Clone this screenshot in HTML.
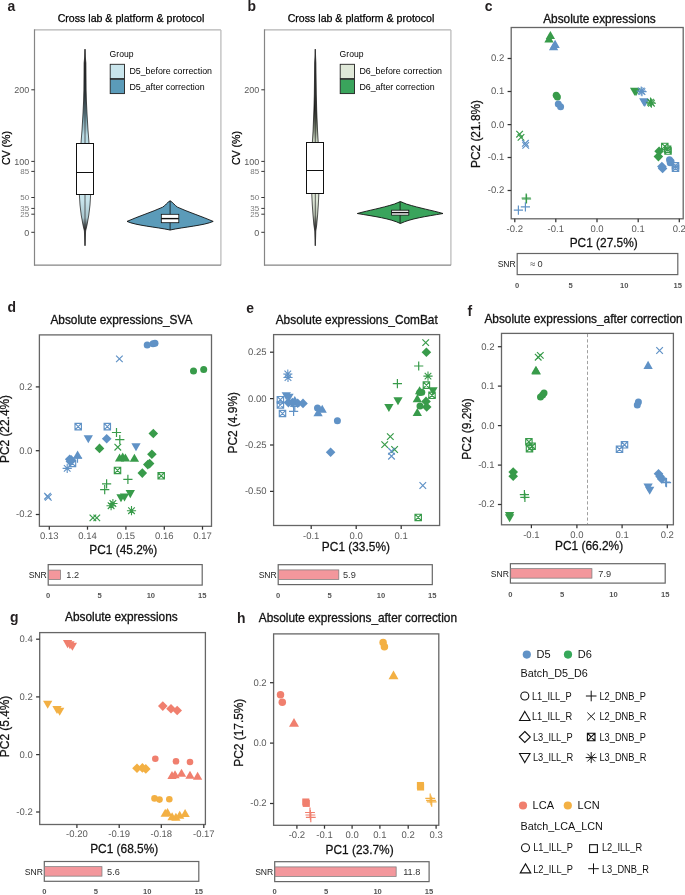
<!DOCTYPE html>
<html><head><meta charset="utf-8"><style>html,body{margin:0;padding:0;background:#fff;}svg{display:block;will-change:transform;}</style></head>
<body><svg width="685" height="895" viewBox="0 0 685 895" font-family="Liberation Sans, sans-serif">
<rect width="685" height="895" fill="#fff"/>
<text transform="translate(7.40 11.00) scale(0.96 1)" font-size="14.5" text-anchor="start" fill="#231f20" font-weight="bold" >a</text>
<text x="131.00" y="21.90" font-size="10.6" text-anchor="middle" fill="#000" font-weight="normal" stroke="#000" stroke-width="0.25">Cross lab &amp; platform &amp; protocol</text>
<line x1="34.50" y1="29.90" x2="220.90" y2="29.90" stroke="#b3b3b3" stroke-width="1.3" />
<line x1="220.90" y1="29.90" x2="220.90" y2="265.20" stroke="#bcbcbc" stroke-width="1.3" />
<line x1="34.50" y1="265.20" x2="220.90" y2="265.20" stroke="#858585" stroke-width="1.3" />
<line x1="34.50" y1="29.30" x2="34.50" y2="265.80" stroke="#858585" stroke-width="1.2" />
<line x1="31.30" y1="89.80" x2="34.50" y2="89.80" stroke="#333" stroke-width="1.0" />
<text x="29.30" y="93.10" font-size="9.0" text-anchor="end" fill="#5a5a5a" font-weight="normal" >200</text>
<line x1="31.30" y1="161.40" x2="34.50" y2="161.40" stroke="#333" stroke-width="1.0" />
<text x="29.30" y="164.70" font-size="9.0" text-anchor="end" fill="#5a5a5a" font-weight="normal" >100</text>
<line x1="31.30" y1="232.30" x2="34.50" y2="232.30" stroke="#333" stroke-width="1.0" />
<text x="29.30" y="235.60" font-size="9.0" text-anchor="end" fill="#5a5a5a" font-weight="normal" >0</text>
<line x1="31.30" y1="171.40" x2="34.50" y2="171.40" stroke="#333" stroke-width="1.0" />
<text transform="translate(29.30 174.30) scale(1.15 1)" font-size="7.0" text-anchor="end" fill="#7a7a7a" font-weight="normal" >85</text>
<line x1="31.30" y1="197.50" x2="34.50" y2="197.50" stroke="#333" stroke-width="1.0" />
<text transform="translate(29.30 200.40) scale(1.15 1)" font-size="7.0" text-anchor="end" fill="#7a7a7a" font-weight="normal" >50</text>
<line x1="31.30" y1="208.40" x2="34.50" y2="208.40" stroke="#333" stroke-width="1.0" />
<text transform="translate(29.30 211.30) scale(1.15 1)" font-size="7.0" text-anchor="end" fill="#7a7a7a" font-weight="normal" >35</text>
<line x1="31.30" y1="214.20" x2="34.50" y2="214.20" stroke="#333" stroke-width="1.0" />
<text transform="translate(29.30 217.10) scale(1.15 1)" font-size="7.0" text-anchor="end" fill="#7a7a7a" font-weight="normal" >25</text>
<text x="0.00" y="0.00" font-size="10.6" text-anchor="middle" fill="#000" font-weight="normal" stroke="#000" stroke-width="0.25" transform="translate(9.7,148) rotate(-90)">CV (%)</text>
<text x="109.60" y="57.20" font-size="8.6" text-anchor="start" fill="#000" font-weight="normal" >Group</text>
<rect x="110.20" y="64.30" width="14.30" height="14.30" fill="#c9e5ec" stroke="#222" stroke-width="0.9" />
<rect x="110.20" y="79.30" width="14.30" height="14.30" fill="#5b9bb9" stroke="#222" stroke-width="0.9" />
<text x="129.40" y="74.20" font-size="8.85" text-anchor="start" fill="#000" font-weight="normal" >D5_before correction</text>
<text x="129.40" y="89.60" font-size="8.85" text-anchor="start" fill="#000" font-weight="normal" >D5_after correction</text>
<linearGradient id="g0" gradientUnits="userSpaceOnUse" x1="0" y1="49" x2="0" y2="246"><stop offset="0.000" stop-color="#333"/><stop offset="0.056" stop-color="#111"/><stop offset="0.234" stop-color="#25343a"/><stop offset="0.350" stop-color="#6f98a4"/><stop offset="0.437" stop-color="#b9dbe4"/><stop offset="0.766" stop-color="#c9e5ec"/><stop offset="0.858" stop-color="#a9c6ce"/><stop offset="0.914" stop-color="#2a2a2a"/><stop offset="0.949" stop-color="#444"/><stop offset="1.000" stop-color="#555"/></linearGradient>
<path d="M85.00 49.20L85.30 57.00L85.90 63.00L86.00 75.00L86.10 90.00L86.40 101.00L87.10 115.00L88.00 130.00L89.00 143.00L89.70 160.00L90.30 180.00L90.60 195.00L90.00 205.00L88.80 215.00L87.00 225.00L85.60 231.00L85.30 238.00L85.00 245.70L84.70 238.00L84.40 231.00L83.00 225.00L81.20 215.00L80.00 205.00L79.40 195.00L79.70 180.00L80.30 160.00L81.00 143.00L82.00 130.00L82.90 115.00L83.60 101.00L83.90 90.00L84.00 75.00L84.10 63.00L84.70 57.00Z" fill="url(#g0)" stroke="#111" stroke-width="0.7" transform="translate(0,0)"/>
<line x1="85.00" y1="49.20" x2="85.00" y2="245.70" stroke="#3a3a3a" stroke-width="0.8" />
<rect x="76.50" y="143.50" width="17.00" height="51.00" fill="#fff" stroke="#111" stroke-width="1.0" />
<line x1="76.50" y1="172.50" x2="93.50" y2="172.50" stroke="#111" stroke-width="1.0" />
<path d="M170.1 200.8 C167 202.5 165.5 205.5 162.6 207.2 C152 212 138 216.5 127.0 221.4 C136 225.5 156 227 170.1 230.0 C184 227 204 225.5 213.2 221.4 C202 216.5 188 212 177.6 207.2 C174.7 205.5 173.2 202.5 170.1 200.8Z" fill="#5b9bb9" stroke="#111" stroke-width="0.9" transform="translate(0,0)"/>
<line x1="170.10" y1="200.80" x2="170.10" y2="230.20" stroke="#111" stroke-width="0.8" />
<rect x="161.30" y="214.30" width="17.50" height="8.40" fill="#fff" stroke="#111" stroke-width="0.8" />
<line x1="161.30" y1="218.60" x2="178.80" y2="218.60" stroke="#111" stroke-width="1.4" />
<text transform="translate(247.41 11.00) scale(0.96 1)" font-size="14.5" text-anchor="start" fill="#231f20" font-weight="bold" >b</text>
<text x="361.00" y="21.90" font-size="10.6" text-anchor="middle" fill="#000" font-weight="normal" stroke="#000" stroke-width="0.25">Cross lab &amp; platform &amp; protocol</text>
<line x1="264.50" y1="29.90" x2="450.90" y2="29.90" stroke="#b3b3b3" stroke-width="1.3" />
<line x1="450.90" y1="29.90" x2="450.90" y2="265.20" stroke="#bcbcbc" stroke-width="1.3" />
<line x1="264.50" y1="265.20" x2="450.90" y2="265.20" stroke="#858585" stroke-width="1.3" />
<line x1="264.50" y1="29.30" x2="264.50" y2="265.80" stroke="#858585" stroke-width="1.2" />
<line x1="261.30" y1="89.80" x2="264.50" y2="89.80" stroke="#333" stroke-width="1.0" />
<text x="259.30" y="93.10" font-size="9.0" text-anchor="end" fill="#5a5a5a" font-weight="normal" >200</text>
<line x1="261.30" y1="161.40" x2="264.50" y2="161.40" stroke="#333" stroke-width="1.0" />
<text x="259.30" y="164.70" font-size="9.0" text-anchor="end" fill="#5a5a5a" font-weight="normal" >100</text>
<line x1="261.30" y1="232.30" x2="264.50" y2="232.30" stroke="#333" stroke-width="1.0" />
<text x="259.30" y="235.60" font-size="9.0" text-anchor="end" fill="#5a5a5a" font-weight="normal" >0</text>
<line x1="261.30" y1="171.40" x2="264.50" y2="171.40" stroke="#333" stroke-width="1.0" />
<text transform="translate(259.30 174.30) scale(1.15 1)" font-size="7.0" text-anchor="end" fill="#7a7a7a" font-weight="normal" >85</text>
<line x1="261.30" y1="197.50" x2="264.50" y2="197.50" stroke="#333" stroke-width="1.0" />
<text transform="translate(259.30 200.40) scale(1.15 1)" font-size="7.0" text-anchor="end" fill="#7a7a7a" font-weight="normal" >50</text>
<line x1="261.30" y1="208.40" x2="264.50" y2="208.40" stroke="#333" stroke-width="1.0" />
<text transform="translate(259.30 211.30) scale(1.15 1)" font-size="7.0" text-anchor="end" fill="#7a7a7a" font-weight="normal" >35</text>
<line x1="261.30" y1="214.20" x2="264.50" y2="214.20" stroke="#333" stroke-width="1.0" />
<text transform="translate(259.30 217.10) scale(1.15 1)" font-size="7.0" text-anchor="end" fill="#7a7a7a" font-weight="normal" >25</text>
<text x="0.00" y="0.00" font-size="10.6" text-anchor="middle" fill="#000" font-weight="normal" stroke="#000" stroke-width="0.25" transform="translate(239.7,148) rotate(-90)">CV (%)</text>
<text x="339.60" y="57.20" font-size="8.6" text-anchor="start" fill="#000" font-weight="normal" >Group</text>
<rect x="340.20" y="64.30" width="14.30" height="14.30" fill="#dfe8d8" stroke="#222" stroke-width="0.9" />
<rect x="340.20" y="79.30" width="14.30" height="14.30" fill="#3aa45c" stroke="#222" stroke-width="0.9" />
<text x="359.40" y="74.20" font-size="8.85" text-anchor="start" fill="#000" font-weight="normal" >D6_before correction</text>
<text x="359.40" y="89.60" font-size="8.85" text-anchor="start" fill="#000" font-weight="normal" >D6_after correction</text>
<linearGradient id="g230" gradientUnits="userSpaceOnUse" x1="0" y1="49" x2="0" y2="246"><stop offset="0.000" stop-color="#333"/><stop offset="0.056" stop-color="#111"/><stop offset="0.310" stop-color="#1c1f1a"/><stop offset="0.401" stop-color="#7d8874"/><stop offset="0.462" stop-color="#c5d0bd"/><stop offset="0.766" stop-color="#dfe8d8"/><stop offset="0.843" stop-color="#bcc6b5"/><stop offset="0.914" stop-color="#2a2a2a"/><stop offset="0.949" stop-color="#444"/><stop offset="1.000" stop-color="#555"/></linearGradient>
<path d="M85.30 49.20L85.60 57.00L85.90 63.00L86.10 80.00L86.30 95.00L86.70 110.00L87.50 130.00L88.20 142.00L88.60 160.00L88.80 180.00L88.80 195.00L88.30 205.00L87.60 215.00L86.70 225.00L85.80 231.00L85.60 238.00L85.30 245.70L85.00 238.00L84.80 231.00L83.90 225.00L83.00 215.00L82.30 205.00L81.80 195.00L81.80 180.00L82.00 160.00L82.40 142.00L83.10 130.00L83.90 110.00L84.30 95.00L84.50 80.00L84.70 63.00L85.00 57.00Z" fill="url(#g230)" stroke="#111" stroke-width="0.7" transform="translate(230,0)"/>
<line x1="315.30" y1="49.20" x2="315.30" y2="245.70" stroke="#3a3a3a" stroke-width="0.8" />
<rect x="306.50" y="142.50" width="17.00" height="51.00" fill="#fff" stroke="#111" stroke-width="1.0" />
<line x1="306.50" y1="170.50" x2="323.50" y2="170.50" stroke="#111" stroke-width="1.0" />
<path d="M170.4 201.6 C168 202.3 166.5 203.3 164.5 204.0 C150 208.5 140 210 127.3 213.5 C145 216.5 160 218.5 170.4 223.5 C180.8 218.5 195.8 216.5 213.0 213.5 C200.8 210 190.8 208.5 176.3 204.0 C174.3 203.3 172.8 202.3 170.4 201.6Z" fill="#3aa45c" stroke="#111" stroke-width="0.9" transform="translate(230,0)"/>
<line x1="400.10" y1="201.60" x2="400.10" y2="223.50" stroke="#111" stroke-width="0.8" />
<rect x="391.60" y="210.20" width="17.20" height="4.90" fill="#fff" stroke="#111" stroke-width="0.8" />
<line x1="391.60" y1="212.60" x2="408.80" y2="212.60" stroke="#111" stroke-width="1.4" />
<text transform="translate(484.80 11.10) scale(0.96 1)" font-size="14.5" text-anchor="start" fill="#231f20" font-weight="bold" >c</text>
<text x="599.50" y="22.60" font-size="11.85" text-anchor="middle" fill="#111" font-weight="normal" stroke="#111" stroke-width="0.3">Absolute expressions</text>
<rect x="511.20" y="27.50" width="172.00" height="191.30" fill="none" stroke="#666666" stroke-width="1.3" />
<line x1="507.60" y1="58.50" x2="511.20" y2="58.50" stroke="#333" stroke-width="1.25" />
<text x="504.20" y="61.45" font-size="9.5" text-anchor="end" fill="#5a5a5a" font-weight="normal" text-rendering="geometricPrecision">0.2</text>
<line x1="507.60" y1="91.50" x2="511.20" y2="91.50" stroke="#333" stroke-width="1.25" />
<text x="504.20" y="94.45" font-size="9.5" text-anchor="end" fill="#5a5a5a" font-weight="normal" text-rendering="geometricPrecision">0.1</text>
<line x1="507.60" y1="124.60" x2="511.20" y2="124.60" stroke="#333" stroke-width="1.25" />
<text x="504.20" y="127.55" font-size="9.5" text-anchor="end" fill="#5a5a5a" font-weight="normal" text-rendering="geometricPrecision">0.0</text>
<line x1="507.60" y1="157.50" x2="511.20" y2="157.50" stroke="#333" stroke-width="1.25" />
<text x="504.20" y="160.45" font-size="9.5" text-anchor="end" fill="#5a5a5a" font-weight="normal" text-rendering="geometricPrecision">-0.1</text>
<line x1="507.60" y1="190.50" x2="511.20" y2="190.50" stroke="#333" stroke-width="1.25" />
<text x="504.20" y="193.45" font-size="9.5" text-anchor="end" fill="#5a5a5a" font-weight="normal" text-rendering="geometricPrecision">-0.2</text>
<line x1="514.80" y1="218.80" x2="514.80" y2="222.20" stroke="#333" stroke-width="1.25" />
<text x="514.80" y="231.70" font-size="9.5" text-anchor="middle" fill="#5a5a5a" font-weight="normal" text-rendering="geometricPrecision">-0.2</text>
<line x1="555.80" y1="218.80" x2="555.80" y2="222.20" stroke="#333" stroke-width="1.25" />
<text x="555.80" y="231.70" font-size="9.5" text-anchor="middle" fill="#5a5a5a" font-weight="normal" text-rendering="geometricPrecision">-0.1</text>
<line x1="597.00" y1="218.80" x2="597.00" y2="222.20" stroke="#333" stroke-width="1.25" />
<text x="597.00" y="231.70" font-size="9.5" text-anchor="middle" fill="#5a5a5a" font-weight="normal" text-rendering="geometricPrecision">0.0</text>
<line x1="638.20" y1="218.80" x2="638.20" y2="222.20" stroke="#333" stroke-width="1.25" />
<text x="638.20" y="231.70" font-size="9.5" text-anchor="middle" fill="#5a5a5a" font-weight="normal" text-rendering="geometricPrecision">0.1</text>
<line x1="679.30" y1="218.80" x2="679.30" y2="222.20" stroke="#333" stroke-width="1.25" />
<text x="679.30" y="231.70" font-size="9.5" text-anchor="middle" fill="#5a5a5a" font-weight="normal" text-rendering="geometricPrecision">0.2</text>
<text transform="translate(603.70 247.20) scale(0.96 1)" font-size="12.4" text-anchor="middle" fill="#111" font-weight="normal" stroke="#111" stroke-width="0.25">PC1 (27.5%)</text>
<text x="0.00" y="0.00" font-size="12.4" text-anchor="middle" fill="#111" font-weight="normal" stroke="#111" stroke-width="0.25" transform="translate(479.60,134.00) rotate(-90) scale(0.96 1)">PC2 (21.8%)</text>
<rect x="517.20" y="253.50" width="160.60" height="21.10" fill="none" stroke="#666666" stroke-width="1.2" />
<text x="515.80" y="267.15" font-size="8.6" text-anchor="end" fill="#222" font-weight="normal" >SNR</text>
<text x="530.00" y="267.45" font-size="9.2" text-anchor="start" fill="#333" font-weight="normal" >≈ 0</text>
<text x="517.20" y="288.40" font-size="7.6" text-anchor="middle" fill="#555" font-weight="bold" >0</text>
<text x="570.73" y="288.40" font-size="7.6" text-anchor="middle" fill="#555" font-weight="bold" >5</text>
<text x="624.27" y="288.40" font-size="7.6" text-anchor="middle" fill="#555" font-weight="bold" >10</text>
<text x="677.80" y="288.40" font-size="7.6" text-anchor="middle" fill="#555" font-weight="bold" >15</text>
<path d="M550.40 31.03L555.05 39.08L545.75 39.08Z" fill="#389b4a"/>
<path d="M549.00 34.43L553.65 42.48L544.35 42.48Z" fill="#389b4a"/>
<path d="M555.10 39.83L559.75 47.88L550.45 47.88Z" fill="#6092c6"/>
<path d="M553.60 42.23L558.25 50.28L548.95 50.28Z" fill="#6092c6"/>
<circle cx="556.20" cy="95.20" r="3.50" fill="#389b4a"/>
<circle cx="557.40" cy="97.00" r="3.50" fill="#389b4a"/>
<circle cx="558.30" cy="104.00" r="3.50" fill="#6092c6"/>
<circle cx="560.60" cy="106.80" r="3.50" fill="#6092c6"/>
<path d="M516.30 130.90L522.90 137.50M516.30 137.50L522.90 130.90" stroke="#389b4a" stroke-width="1.2" fill="none"/>
<path d="M517.70 134.10L524.30 140.70M517.70 140.70L524.30 134.10" stroke="#389b4a" stroke-width="1.2" fill="none"/>
<path d="M522.10 140.00L528.70 146.60M522.10 146.60L528.70 140.00" stroke="#6092c6" stroke-width="1.2" fill="none"/>
<path d="M522.40 142.10L529.00 148.70M522.40 148.70L529.00 142.10" stroke="#6092c6" stroke-width="1.2" fill="none"/>
<path d="M521.60 198.00H530.80M526.20 193.40V202.60" stroke="#389b4a" stroke-width="1.2" fill="none"/>
<path d="M521.90 199.00H531.10M526.50 194.40V203.60" stroke="#389b4a" stroke-width="1.2" fill="none"/>
<path d="M520.80 206.90H530.00M525.40 202.30V211.50" stroke="#6092c6" stroke-width="1.2" fill="none"/>
<path d="M513.80 210.10H523.00M518.40 205.50V214.70" stroke="#6092c6" stroke-width="1.2" fill="none"/>
<path d="M634.60 95.77L639.25 87.72L629.95 87.72Z" fill="#389b4a"/>
<path d="M636.00 96.17L640.65 88.12L631.35 88.12Z" fill="#389b4a"/>
<path d="M636.60 91.00H645.80M641.20 86.40V95.60M637.89 87.69L644.51 94.31M637.89 94.31L644.51 87.69" stroke="#6092c6" stroke-width="1.1" fill="none"/>
<path d="M637.40 91.60H646.60M642.00 87.00V96.20M638.69 88.29L645.31 94.91M638.69 94.91L645.31 88.29" stroke="#6092c6" stroke-width="1.1" fill="none"/>
<path d="M643.80 106.37L648.45 98.32L639.15 98.32Z" fill="#6092c6"/>
<path d="M644.80 106.97L649.45 98.92L640.15 98.92Z" fill="#6092c6"/>
<path d="M645.90 102.20H655.10M650.50 97.60V106.80M647.19 98.89L653.81 105.51M647.19 105.51L653.81 98.89" stroke="#389b4a" stroke-width="1.1" fill="none"/>
<path d="M646.80 103.20H656.00M651.40 98.60V107.80M648.09 99.89L654.71 106.51M648.09 106.51L654.71 99.89" stroke="#389b4a" stroke-width="1.1" fill="none"/>
<path d="M661.60 143.20h6.40v6.40h-6.40ZM661.60 143.20L668.00 149.60M661.60 149.60L668.00 143.20" stroke="#389b4a" stroke-width="1.15" fill="none"/>
<path d="M664.40 146.00h6.40v6.40h-6.40ZM664.40 146.00L670.80 152.40M664.40 152.40L670.80 146.00" stroke="#389b4a" stroke-width="1.15" fill="none"/>
<path d="M664.80 147.80h6.40v6.40h-6.40ZM664.80 147.80L671.20 154.20M664.80 154.20L671.20 147.80" stroke="#389b4a" stroke-width="1.15" fill="none"/>
<path d="M659.10 146.50L663.90 151.30L659.10 156.10L654.30 151.30Z" fill="#389b4a"/>
<path d="M658.40 151.80L663.20 156.60L658.40 161.40L653.60 156.60Z" fill="#389b4a"/>
<circle cx="669.50" cy="159.80" r="3.50" fill="#6092c6"/>
<circle cx="671.00" cy="161.40" r="3.50" fill="#6092c6"/>
<circle cx="670.20" cy="162.80" r="3.50" fill="#6092c6"/>
<path d="M661.90 161.80L666.70 166.60L661.90 171.40L657.10 166.60Z" fill="#6092c6"/>
<path d="M662.60 163.60L667.40 168.40L662.60 173.20L657.80 168.40Z" fill="#6092c6"/>
<path d="M672.30 162.60h6.40v6.40h-6.40ZM672.30 162.60L678.70 169.00M672.30 169.00L678.70 162.60" stroke="#6092c6" stroke-width="1.15" fill="none"/>
<path d="M672.30 165.00h6.40v6.40h-6.40ZM672.30 165.00L678.70 171.40M672.30 171.40L678.70 165.00" stroke="#6092c6" stroke-width="1.15" fill="none"/>
<text transform="translate(7.60 312.30) scale(0.96 1)" font-size="14.5" text-anchor="start" fill="#231f20" font-weight="bold" >d</text>
<text x="121.40" y="324.20" font-size="11.85" text-anchor="middle" fill="#111" font-weight="normal" stroke="#111" stroke-width="0.3">Absolute expressions_SVA</text>
<rect x="39.40" y="334.90" width="172.10" height="191.40" fill="none" stroke="#666666" stroke-width="1.3" />
<line x1="35.80" y1="386.90" x2="39.40" y2="386.90" stroke="#333" stroke-width="1.25" />
<text x="32.40" y="389.85" font-size="9.5" text-anchor="end" fill="#5a5a5a" font-weight="normal" text-rendering="geometricPrecision">0.2</text>
<line x1="35.80" y1="450.70" x2="39.40" y2="450.70" stroke="#333" stroke-width="1.25" />
<text x="32.40" y="453.65" font-size="9.5" text-anchor="end" fill="#5a5a5a" font-weight="normal" text-rendering="geometricPrecision">0.0</text>
<line x1="35.80" y1="514.50" x2="39.40" y2="514.50" stroke="#333" stroke-width="1.25" />
<text x="32.40" y="517.45" font-size="9.5" text-anchor="end" fill="#5a5a5a" font-weight="normal" text-rendering="geometricPrecision">-0.2</text>
<line x1="49.30" y1="526.30" x2="49.30" y2="529.70" stroke="#333" stroke-width="1.25" />
<text x="49.30" y="539.30" font-size="9.5" text-anchor="middle" fill="#5a5a5a" font-weight="normal" text-rendering="geometricPrecision">0.13</text>
<line x1="87.50" y1="526.30" x2="87.50" y2="529.70" stroke="#333" stroke-width="1.25" />
<text x="87.50" y="539.30" font-size="9.5" text-anchor="middle" fill="#5a5a5a" font-weight="normal" text-rendering="geometricPrecision">0.14</text>
<line x1="125.90" y1="526.30" x2="125.90" y2="529.70" stroke="#333" stroke-width="1.25" />
<text x="125.90" y="539.30" font-size="9.5" text-anchor="middle" fill="#5a5a5a" font-weight="normal" text-rendering="geometricPrecision">0.15</text>
<line x1="164.30" y1="526.30" x2="164.30" y2="529.70" stroke="#333" stroke-width="1.25" />
<text x="164.30" y="539.30" font-size="9.5" text-anchor="middle" fill="#5a5a5a" font-weight="normal" text-rendering="geometricPrecision">0.16</text>
<line x1="202.50" y1="526.30" x2="202.50" y2="529.70" stroke="#333" stroke-width="1.25" />
<text x="202.50" y="539.30" font-size="9.5" text-anchor="middle" fill="#5a5a5a" font-weight="normal" text-rendering="geometricPrecision">0.17</text>
<text transform="translate(123.30 554.40) scale(0.96 1)" font-size="12.4" text-anchor="middle" fill="#111" font-weight="normal" stroke="#111" stroke-width="0.25">PC1 (45.2%)</text>
<text x="0.00" y="0.00" font-size="12.4" text-anchor="middle" fill="#111" font-weight="normal" stroke="#111" stroke-width="0.25" transform="translate(9.30,429.00) rotate(-90) scale(0.96 1)">PC2 (22.4%)</text>
<rect x="48.20" y="564.60" width="154.00" height="20.50" fill="none" stroke="#666666" stroke-width="1.2" />
<rect x="48.50" y="570.10" width="12.02" height="9.50" fill="#f3979c" stroke="#7d7d7d" stroke-width="0.75" />
<text x="46.80" y="577.95" font-size="8.6" text-anchor="end" fill="#222" font-weight="normal" >SNR</text>
<text x="66.30" y="578.25" font-size="9.2" text-anchor="start" fill="#333" font-weight="normal" >1.2</text>
<text x="48.20" y="598.00" font-size="7.6" text-anchor="middle" fill="#555" font-weight="bold" >0</text>
<text x="99.53" y="598.00" font-size="7.6" text-anchor="middle" fill="#555" font-weight="bold" >5</text>
<text x="150.87" y="598.00" font-size="7.6" text-anchor="middle" fill="#555" font-weight="bold" >10</text>
<text x="202.20" y="598.00" font-size="7.6" text-anchor="middle" fill="#555" font-weight="bold" >15</text>
<circle cx="147.20" cy="344.90" r="3.50" fill="#6092c6"/>
<circle cx="153.00" cy="343.80" r="3.50" fill="#6092c6"/>
<circle cx="155.00" cy="343.20" r="3.50" fill="#6092c6"/>
<path d="M116.10 355.60L122.70 362.20M116.10 362.20L122.70 355.60" stroke="#6092c6" stroke-width="1.2" fill="none"/>
<circle cx="193.50" cy="371.10" r="3.50" fill="#389b4a"/>
<circle cx="203.70" cy="369.40" r="3.50" fill="#389b4a"/>
<path d="M75.00 423.40h6.40v6.40h-6.40ZM75.00 423.40L81.40 429.80M75.00 429.80L81.40 423.40" stroke="#6092c6" stroke-width="1.15" fill="none"/>
<path d="M104.10 423.40h6.40v6.40h-6.40ZM104.10 423.40L110.50 429.80M104.10 429.80L110.50 423.40" stroke="#6092c6" stroke-width="1.15" fill="none"/>
<path d="M88.30 443.37L92.95 435.32L83.65 435.32Z" fill="#6092c6"/>
<path d="M106.70 433.90L111.50 438.70L106.70 443.50L101.90 438.70Z" fill="#6092c6"/>
<path d="M153.30 428.70L158.10 433.50L153.30 438.30L148.50 433.50Z" fill="#389b4a"/>
<path d="M136.00 451.37L140.65 443.32L131.35 443.32Z" fill="#6092c6"/>
<path d="M99.50 443.60L104.30 448.40L99.50 453.20L94.70 448.40Z" fill="#389b4a"/>
<path d="M111.90 432.50H121.10M116.50 427.90V437.10" stroke="#389b4a" stroke-width="1.2" fill="none"/>
<path d="M115.20 439.70H124.40M119.80 435.10V444.30" stroke="#389b4a" stroke-width="1.2" fill="none"/>
<path d="M114.50 443.90L121.10 450.50M114.50 450.50L121.10 443.90" stroke="#389b4a" stroke-width="1.2" fill="none"/>
<path d="M119.60 453.43L124.25 461.48L114.95 461.48Z" fill="#389b4a"/>
<path d="M122.70 452.43L127.35 460.48L118.05 460.48Z" fill="#389b4a"/>
<path d="M125.40 453.43L130.05 461.48L120.75 461.48Z" fill="#389b4a"/>
<path d="M134.40 453.63L139.05 461.68L129.75 461.68Z" fill="#389b4a"/>
<path d="M151.90 449.50L156.70 454.30L151.90 459.10L147.10 454.30Z" fill="#389b4a"/>
<path d="M147.80 459.80L152.60 464.60L147.80 469.40L143.00 464.60Z" fill="#389b4a"/>
<path d="M149.60 458.80L154.40 463.60L149.60 468.40L144.80 463.60Z" fill="#389b4a"/>
<path d="M142.30 468.30L147.10 473.10L142.30 477.90L137.50 473.10Z" fill="#389b4a"/>
<path d="M158.00 472.60h6.40v6.40h-6.40ZM158.00 472.60L164.40 479.00M158.00 479.00L164.40 472.60" stroke="#389b4a" stroke-width="1.15" fill="none"/>
<path d="M114.30 467.20h6.40v6.40h-6.40ZM114.30 467.20L120.70 473.60M114.30 473.60L120.70 467.20" stroke="#389b4a" stroke-width="1.15" fill="none"/>
<path d="M123.30 479.40H132.50M127.90 474.80V484.00" stroke="#389b4a" stroke-width="1.2" fill="none"/>
<path d="M102.00 483.80H111.20M106.60 479.20V488.40" stroke="#389b4a" stroke-width="1.2" fill="none"/>
<path d="M100.10 489.60H109.30M104.70 485.00V494.20" stroke="#389b4a" stroke-width="1.2" fill="none"/>
<path d="M121.00 502.37L125.65 494.32L116.35 494.32Z" fill="#389b4a"/>
<path d="M124.50 501.57L129.15 493.52L119.85 493.52Z" fill="#389b4a"/>
<path d="M130.30 498.17L134.95 490.12L125.65 490.12Z" fill="#389b4a"/>
<path d="M108.30 503.50H117.50M112.90 498.90V508.10M109.59 500.19L116.21 506.81M109.59 506.81L116.21 500.19" stroke="#389b4a" stroke-width="1.1" fill="none"/>
<path d="M106.50 505.70H115.70M111.10 501.10V510.30M107.79 502.39L114.41 509.01M107.79 509.01L114.41 502.39" stroke="#389b4a" stroke-width="1.1" fill="none"/>
<path d="M126.90 510.70H136.10M131.50 506.10V515.30M128.19 507.39L134.81 514.01M128.19 514.01L134.81 507.39" stroke="#389b4a" stroke-width="1.1" fill="none"/>
<path d="M89.60 514.60L96.20 521.20M89.60 521.20L96.20 514.60" stroke="#389b4a" stroke-width="1.2" fill="none"/>
<path d="M93.50 514.60L100.10 521.20M93.50 521.20L100.10 514.60" stroke="#389b4a" stroke-width="1.2" fill="none"/>
<path d="M44.20 492.90L50.80 499.50M44.20 499.50L50.80 492.90" stroke="#6092c6" stroke-width="1.2" fill="none"/>
<path d="M45.00 494.10L51.60 500.70M45.00 500.70L51.60 494.10" stroke="#6092c6" stroke-width="1.2" fill="none"/>
<path d="M72.90 458.20H82.10M77.50 453.60V462.80" stroke="#6092c6" stroke-width="1.2" fill="none"/>
<path d="M77.60 450.43L82.25 458.48L72.95 458.48Z" fill="#6092c6"/>
<path d="M69.30 460.30h6.40v6.40h-6.40ZM69.30 460.30L75.70 466.70M69.30 466.70L75.70 460.30" stroke="#6092c6" stroke-width="1.15" fill="none"/>
<path d="M69.70 454.50L74.50 459.30L69.70 464.10L64.90 459.30Z" fill="#6092c6"/>
<path d="M71.20 455.10L76.00 459.90L71.20 464.70L66.40 459.90Z" fill="#6092c6"/>
<path d="M70.40 456.70L75.20 461.50L70.40 466.30L65.60 461.50Z" fill="#6092c6"/>
<path d="M62.60 468.40H71.80M67.20 463.80V473.00M63.89 465.09L70.51 471.71M63.89 471.71L70.51 465.09" stroke="#6092c6" stroke-width="1.1" fill="none"/>
<text transform="translate(246.20 312.80) scale(0.96 1)" font-size="14.5" text-anchor="start" fill="#231f20" font-weight="bold" >e</text>
<text x="356.70" y="323.60" font-size="11.85" text-anchor="middle" fill="#111" font-weight="normal" stroke="#111" stroke-width="0.3">Absolute expressions_ComBat</text>
<rect x="273.60" y="334.60" width="166.00" height="190.90" fill="none" stroke="#666666" stroke-width="1.3" />
<line x1="270.00" y1="352.20" x2="273.60" y2="352.20" stroke="#333" stroke-width="1.25" />
<text x="266.60" y="355.15" font-size="9.5" text-anchor="end" fill="#5a5a5a" font-weight="normal" text-rendering="geometricPrecision">0.25</text>
<line x1="270.00" y1="398.60" x2="273.60" y2="398.60" stroke="#333" stroke-width="1.25" />
<text x="266.60" y="401.55" font-size="9.5" text-anchor="end" fill="#5a5a5a" font-weight="normal" text-rendering="geometricPrecision">0.00</text>
<line x1="270.00" y1="445.00" x2="273.60" y2="445.00" stroke="#333" stroke-width="1.25" />
<text x="266.60" y="447.95" font-size="9.5" text-anchor="end" fill="#5a5a5a" font-weight="normal" text-rendering="geometricPrecision">-0.25</text>
<line x1="270.00" y1="491.40" x2="273.60" y2="491.40" stroke="#333" stroke-width="1.25" />
<text x="266.60" y="494.35" font-size="9.5" text-anchor="end" fill="#5a5a5a" font-weight="normal" text-rendering="geometricPrecision">-0.50</text>
<line x1="311.20" y1="525.50" x2="311.20" y2="528.90" stroke="#333" stroke-width="1.25" />
<text x="311.20" y="538.50" font-size="9.5" text-anchor="middle" fill="#5a5a5a" font-weight="normal" text-rendering="geometricPrecision">-0.1</text>
<line x1="356.20" y1="525.50" x2="356.20" y2="528.90" stroke="#333" stroke-width="1.25" />
<text x="356.20" y="538.50" font-size="9.5" text-anchor="middle" fill="#5a5a5a" font-weight="normal" text-rendering="geometricPrecision">0.0</text>
<line x1="401.20" y1="525.50" x2="401.20" y2="528.90" stroke="#333" stroke-width="1.25" />
<text x="401.20" y="538.50" font-size="9.5" text-anchor="middle" fill="#5a5a5a" font-weight="normal" text-rendering="geometricPrecision">0.1</text>
<text transform="translate(355.90 551.10) scale(0.96 1)" font-size="12.4" text-anchor="middle" fill="#111" font-weight="normal" stroke="#111" stroke-width="0.25">PC1 (33.5%)</text>
<text x="0.00" y="0.00" font-size="12.4" text-anchor="middle" fill="#111" font-weight="normal" stroke="#111" stroke-width="0.25" transform="translate(236.60,422.80) rotate(-90) scale(0.96 1)">PC2 (4.9%)</text>
<rect x="278.20" y="564.70" width="154.10" height="19.90" fill="none" stroke="#666666" stroke-width="1.2" />
<rect x="278.50" y="569.90" width="60.31" height="9.50" fill="#f3979c" stroke="#7d7d7d" stroke-width="0.75" />
<text x="276.80" y="577.75" font-size="8.6" text-anchor="end" fill="#222" font-weight="normal" >SNR</text>
<text x="343.00" y="578.05" font-size="9.2" text-anchor="start" fill="#333" font-weight="normal" >5.9</text>
<text x="278.20" y="598.00" font-size="7.6" text-anchor="middle" fill="#555" font-weight="bold" >0</text>
<text x="329.57" y="598.00" font-size="7.6" text-anchor="middle" fill="#555" font-weight="bold" >5</text>
<text x="380.93" y="598.00" font-size="7.6" text-anchor="middle" fill="#555" font-weight="bold" >10</text>
<text x="432.30" y="598.00" font-size="7.6" text-anchor="middle" fill="#555" font-weight="bold" >15</text>
<path d="M283.20 374.00H292.40M287.80 369.40V378.60M284.49 370.69L291.11 377.31M284.49 377.31L291.11 370.69" stroke="#6092c6" stroke-width="1.1" fill="none"/>
<path d="M283.40 377.50H292.60M288.00 372.90V382.10M284.69 374.19L291.31 380.81M284.69 380.81L291.31 374.19" stroke="#6092c6" stroke-width="1.1" fill="none"/>
<path d="M286.30 400.37L290.95 392.32L281.65 392.32Z" fill="#6092c6"/>
<path d="M289.00 401.77L293.65 393.72L284.35 393.72Z" fill="#6092c6"/>
<path d="M277.20 396.50h6.40v6.40h-6.40ZM277.20 396.50L283.60 402.90M277.20 402.90L283.60 396.50" stroke="#6092c6" stroke-width="1.15" fill="none"/>
<path d="M277.20 401.80h6.40v6.40h-6.40ZM277.20 401.80L283.60 408.20M277.20 408.20L283.60 401.80" stroke="#6092c6" stroke-width="1.15" fill="none"/>
<path d="M279.30 410.30h6.40v6.40h-6.40ZM279.30 410.30L285.70 416.70M279.30 416.70L285.70 410.30" stroke="#6092c6" stroke-width="1.15" fill="none"/>
<path d="M288.40 397.80L293.20 402.60L288.40 407.40L283.60 402.60Z" fill="#6092c6"/>
<path d="M292.40 397.80L297.20 402.60L292.40 407.40L287.60 402.60Z" fill="#6092c6"/>
<path d="M294.80 396.03L299.45 404.08L290.15 404.08Z" fill="#6092c6"/>
<path d="M297.70 398.40L302.50 403.20L297.70 408.00L292.90 403.20Z" fill="#6092c6"/>
<path d="M303.00 398.60L307.80 403.40L303.00 408.20L298.20 403.40Z" fill="#6092c6"/>
<path d="M290.20 406.50H299.40M294.80 401.90V411.10" stroke="#6092c6" stroke-width="1.2" fill="none"/>
<path d="M289.00 411.40H298.20M293.60 406.80V416.00" stroke="#6092c6" stroke-width="1.2" fill="none"/>
<circle cx="317.50" cy="407.90" r="3.50" fill="#6092c6"/>
<path d="M322.20 404.63L326.85 412.68L317.55 412.68Z" fill="#6092c6"/>
<path d="M318.10 408.13L322.75 416.18L313.45 416.18Z" fill="#6092c6"/>
<circle cx="337.40" cy="420.70" r="3.50" fill="#6092c6"/>
<path d="M330.60 447.50L335.40 452.30L330.60 457.10L325.80 452.30Z" fill="#6092c6"/>
<path d="M422.40 339.30L429.00 345.90M422.40 345.90L429.00 339.30" stroke="#389b4a" stroke-width="1.2" fill="none"/>
<path d="M426.40 347.40L431.20 352.20L426.40 357.00L421.60 352.20Z" fill="#389b4a"/>
<path d="M414.10 366.00H423.30M418.70 361.40V370.60" stroke="#389b4a" stroke-width="1.2" fill="none"/>
<path d="M423.40 376.10H432.60M428.00 371.50V380.70M424.69 372.79L431.31 379.41M424.69 379.41L431.31 372.79" stroke="#389b4a" stroke-width="1.1" fill="none"/>
<path d="M392.80 383.70H402.00M397.40 379.10V388.30" stroke="#389b4a" stroke-width="1.2" fill="none"/>
<path d="M423.20 381.90h6.40v6.40h-6.40ZM423.20 381.90L429.60 388.30M423.20 388.30L429.60 381.90" stroke="#389b4a" stroke-width="1.15" fill="none"/>
<path d="M433.00 395.37L437.65 387.32L428.35 387.32Z" fill="#389b4a"/>
<path d="M428.80 392.10h6.40v6.40h-6.40ZM428.80 392.10L435.20 398.50M428.80 398.50L435.20 392.10" stroke="#389b4a" stroke-width="1.15" fill="none"/>
<path d="M419.60 386.23L424.25 394.28L414.95 394.28Z" fill="#389b4a"/>
<circle cx="419.80" cy="392.40" r="3.50" fill="#389b4a"/>
<circle cx="421.80" cy="392.20" r="3.50" fill="#389b4a"/>
<path d="M417.30 394.23L421.95 402.28L412.65 402.28Z" fill="#389b4a"/>
<path d="M426.00 396.60L430.80 401.40L426.00 406.20L421.20 401.40Z" fill="#389b4a"/>
<path d="M426.70 402.20L431.50 407.00L426.70 411.80L421.90 407.00Z" fill="#389b4a"/>
<circle cx="420.00" cy="406.00" r="3.50" fill="#389b4a"/>
<path d="M417.30 408.03L421.95 416.08L412.65 416.08Z" fill="#389b4a"/>
<path d="M398.00 405.37L402.65 397.32L393.35 397.32Z" fill="#389b4a"/>
<path d="M388.90 411.97L393.55 403.92L384.25 403.92Z" fill="#389b4a"/>
<path d="M387.00 433.30L393.60 439.90M387.00 439.90L393.60 433.30" stroke="#389b4a" stroke-width="1.2" fill="none"/>
<path d="M381.40 441.30L388.00 447.90M381.40 447.90L388.00 441.30" stroke="#389b4a" stroke-width="1.2" fill="none"/>
<path d="M391.30 446.20L397.90 452.80M391.30 452.80L397.90 446.20" stroke="#389b4a" stroke-width="1.2" fill="none"/>
<path d="M388.20 448.00L394.80 454.60M388.20 454.60L394.80 448.00" stroke="#6092c6" stroke-width="1.2" fill="none"/>
<path d="M388.20 452.90L394.80 459.50M388.20 459.50L394.80 452.90" stroke="#6092c6" stroke-width="1.2" fill="none"/>
<path d="M419.50 482.20L426.10 488.80M419.50 488.80L426.10 482.20" stroke="#6092c6" stroke-width="1.2" fill="none"/>
<path d="M415.00 514.20h6.40v6.40h-6.40ZM415.00 514.20L421.40 520.60M415.00 520.60L421.40 514.20" stroke="#389b4a" stroke-width="1.15" fill="none"/>
<text transform="translate(467.60 316.00) scale(0.96 1)" font-size="14.5" text-anchor="start" fill="#231f20" font-weight="bold" >f</text>
<text x="583.50" y="322.50" font-size="11.85" text-anchor="middle" fill="#111" font-weight="normal" stroke="#111" stroke-width="0.3">Absolute expressions_after correction</text>
<rect x="501.50" y="333.40" width="171.90" height="191.40" fill="none" stroke="#666666" stroke-width="1.3" />
<line x1="587.5" y1="333.9" x2="587.5" y2="524.3" stroke="#888" stroke-width="0.8" stroke-dasharray="3.2 2.2"/>
<line x1="497.90" y1="346.70" x2="501.50" y2="346.70" stroke="#333" stroke-width="1.25" />
<text x="494.50" y="349.65" font-size="9.5" text-anchor="end" fill="#5a5a5a" font-weight="normal" text-rendering="geometricPrecision">0.2</text>
<line x1="497.90" y1="386.10" x2="501.50" y2="386.10" stroke="#333" stroke-width="1.25" />
<text x="494.50" y="389.05" font-size="9.5" text-anchor="end" fill="#5a5a5a" font-weight="normal" text-rendering="geometricPrecision">0.1</text>
<line x1="497.90" y1="425.60" x2="501.50" y2="425.60" stroke="#333" stroke-width="1.25" />
<text x="494.50" y="428.55" font-size="9.5" text-anchor="end" fill="#5a5a5a" font-weight="normal" text-rendering="geometricPrecision">0.0</text>
<line x1="497.90" y1="465.10" x2="501.50" y2="465.10" stroke="#333" stroke-width="1.25" />
<text x="494.50" y="468.05" font-size="9.5" text-anchor="end" fill="#5a5a5a" font-weight="normal" text-rendering="geometricPrecision">-0.1</text>
<line x1="497.90" y1="504.50" x2="501.50" y2="504.50" stroke="#333" stroke-width="1.25" />
<text x="494.50" y="507.45" font-size="9.5" text-anchor="end" fill="#5a5a5a" font-weight="normal" text-rendering="geometricPrecision">-0.2</text>
<line x1="531.40" y1="524.80" x2="531.40" y2="528.20" stroke="#333" stroke-width="1.25" />
<text x="531.40" y="538.10" font-size="9.5" text-anchor="middle" fill="#5a5a5a" font-weight="normal" text-rendering="geometricPrecision">-0.1</text>
<line x1="576.90" y1="524.80" x2="576.90" y2="528.20" stroke="#333" stroke-width="1.25" />
<text x="576.90" y="538.10" font-size="9.5" text-anchor="middle" fill="#5a5a5a" font-weight="normal" text-rendering="geometricPrecision">0.0</text>
<line x1="622.10" y1="524.80" x2="622.10" y2="528.20" stroke="#333" stroke-width="1.25" />
<text x="622.10" y="538.10" font-size="9.5" text-anchor="middle" fill="#5a5a5a" font-weight="normal" text-rendering="geometricPrecision">0.1</text>
<line x1="667.30" y1="524.80" x2="667.30" y2="528.20" stroke="#333" stroke-width="1.25" />
<text x="667.30" y="538.10" font-size="9.5" text-anchor="middle" fill="#5a5a5a" font-weight="normal" text-rendering="geometricPrecision">0.2</text>
<text transform="translate(589.10 550.30) scale(0.96 1)" font-size="12.4" text-anchor="middle" fill="#111" font-weight="normal" stroke="#111" stroke-width="0.25">PC1 (66.2%)</text>
<text x="0.00" y="0.00" font-size="12.4" text-anchor="middle" fill="#111" font-weight="normal" stroke="#111" stroke-width="0.25" transform="translate(471.20,428.90) rotate(-90) scale(0.96 1)">PC2 (9.2%)</text>
<rect x="510.40" y="563.70" width="154.80" height="19.40" fill="none" stroke="#666666" stroke-width="1.2" />
<rect x="510.70" y="568.65" width="81.23" height="9.50" fill="#f3979c" stroke="#7d7d7d" stroke-width="0.75" />
<text x="509.00" y="576.50" font-size="8.6" text-anchor="end" fill="#222" font-weight="normal" >SNR</text>
<text x="598.30" y="576.80" font-size="9.2" text-anchor="start" fill="#333" font-weight="normal" >7.9</text>
<text x="510.40" y="597.00" font-size="7.6" text-anchor="middle" fill="#555" font-weight="bold" >0</text>
<text x="562.00" y="597.00" font-size="7.6" text-anchor="middle" fill="#555" font-weight="bold" >5</text>
<text x="613.60" y="597.00" font-size="7.6" text-anchor="middle" fill="#555" font-weight="bold" >10</text>
<text x="665.20" y="597.00" font-size="7.6" text-anchor="middle" fill="#555" font-weight="bold" >15</text>
<path d="M534.90 353.90L541.50 360.50M534.90 360.50L541.50 353.90" stroke="#389b4a" stroke-width="1.2" fill="none"/>
<path d="M537.00 352.10L543.60 358.70M537.00 358.70L543.60 352.10" stroke="#389b4a" stroke-width="1.2" fill="none"/>
<path d="M535.90 365.63L540.55 373.68L531.25 373.68Z" fill="#389b4a"/>
<path d="M536.20 366.43L540.85 374.48L531.55 374.48Z" fill="#389b4a"/>
<circle cx="540.50" cy="397.10" r="3.50" fill="#389b4a"/>
<circle cx="542.60" cy="394.90" r="3.50" fill="#389b4a"/>
<circle cx="544.00" cy="393.10" r="3.50" fill="#389b4a"/>
<path d="M525.70 438.60h6.40v6.40h-6.40ZM525.70 438.60L532.10 445.00M525.70 445.00L532.10 438.60" stroke="#389b4a" stroke-width="1.15" fill="none"/>
<path d="M528.90 443.00h6.40v6.40h-6.40ZM528.90 443.00L535.30 449.40M528.90 449.40L535.30 443.00" stroke="#389b4a" stroke-width="1.15" fill="none"/>
<path d="M526.30 445.40h6.40v6.40h-6.40ZM526.30 445.40L532.70 451.80M526.30 451.80L532.70 445.40" stroke="#389b4a" stroke-width="1.15" fill="none"/>
<path d="M513.20 467.30L518.00 472.10L513.20 476.90L508.40 472.10Z" fill="#389b4a"/>
<path d="M513.20 471.40L518.00 476.20L513.20 481.00L508.40 476.20Z" fill="#389b4a"/>
<path d="M519.80 494.60H529.00M524.40 490.00V499.20" stroke="#389b4a" stroke-width="1.2" fill="none"/>
<path d="M520.30 497.30H529.50M524.90 492.70V501.90" stroke="#389b4a" stroke-width="1.2" fill="none"/>
<path d="M509.60 519.97L514.25 511.92L504.95 511.92Z" fill="#389b4a"/>
<path d="M509.60 522.37L514.25 514.32L504.95 514.32Z" fill="#389b4a"/>
<path d="M656.30 347.20L662.90 353.80M656.30 353.80L662.90 347.20" stroke="#6092c6" stroke-width="1.2" fill="none"/>
<path d="M648.10 360.83L652.75 368.88L643.45 368.88Z" fill="#6092c6"/>
<circle cx="638.40" cy="401.90" r="3.50" fill="#6092c6"/>
<circle cx="637.30" cy="405.10" r="3.50" fill="#6092c6"/>
<path d="M616.30 446.10h6.40v6.40h-6.40ZM616.30 446.10L622.70 452.50M616.30 452.50L622.70 446.10" stroke="#6092c6" stroke-width="1.15" fill="none"/>
<path d="M621.30 441.60h6.40v6.40h-6.40ZM621.30 441.60L627.70 448.00M621.30 448.00L627.70 441.60" stroke="#6092c6" stroke-width="1.15" fill="none"/>
<path d="M658.50 468.90L663.30 473.70L658.50 478.50L653.70 473.70Z" fill="#6092c6"/>
<path d="M660.10 471.80L664.90 476.60L660.10 481.40L655.30 476.60Z" fill="#6092c6"/>
<path d="M661.70 474.20L666.50 479.00L661.70 483.80L656.90 479.00Z" fill="#6092c6"/>
<path d="M661.10 482.20H670.30M665.70 477.60V486.80" stroke="#6092c6" stroke-width="1.2" fill="none"/>
<path d="M661.90 482.70H671.10M666.50 478.10V487.30" stroke="#6092c6" stroke-width="1.2" fill="none"/>
<path d="M648.10 491.57L652.75 483.52L643.45 483.52Z" fill="#6092c6"/>
<path d="M649.70 494.77L654.35 486.72L645.05 486.72Z" fill="#6092c6"/>
<text transform="translate(10.00 621.90) scale(0.96 1)" font-size="14.5" text-anchor="start" fill="#231f20" font-weight="bold" >g</text>
<text x="121.40" y="621.40" font-size="11.85" text-anchor="middle" fill="#111" font-weight="normal" stroke="#111" stroke-width="0.3">Absolute expressions</text>
<rect x="39.70" y="632.60" width="165.70" height="191.90" fill="none" stroke="#666666" stroke-width="1.3" />
<line x1="36.10" y1="639.20" x2="39.70" y2="639.20" stroke="#333" stroke-width="1.25" />
<text x="32.70" y="642.15" font-size="9.5" text-anchor="end" fill="#5a5a5a" font-weight="normal" text-rendering="geometricPrecision">0.4</text>
<line x1="36.10" y1="696.90" x2="39.70" y2="696.90" stroke="#333" stroke-width="1.25" />
<text x="32.70" y="699.85" font-size="9.5" text-anchor="end" fill="#5a5a5a" font-weight="normal" text-rendering="geometricPrecision">0.2</text>
<line x1="36.10" y1="754.60" x2="39.70" y2="754.60" stroke="#333" stroke-width="1.25" />
<text x="32.70" y="757.55" font-size="9.5" text-anchor="end" fill="#5a5a5a" font-weight="normal" text-rendering="geometricPrecision">0.0</text>
<line x1="36.10" y1="812.00" x2="39.70" y2="812.00" stroke="#333" stroke-width="1.25" />
<text x="32.70" y="814.95" font-size="9.5" text-anchor="end" fill="#5a5a5a" font-weight="normal" text-rendering="geometricPrecision">-0.2</text>
<line x1="76.90" y1="824.50" x2="76.90" y2="827.90" stroke="#333" stroke-width="1.25" />
<text x="76.90" y="837.30" font-size="9.5" text-anchor="middle" fill="#5a5a5a" font-weight="normal" text-rendering="geometricPrecision">-0.20</text>
<line x1="119.20" y1="824.50" x2="119.20" y2="827.90" stroke="#333" stroke-width="1.25" />
<text x="119.20" y="837.30" font-size="9.5" text-anchor="middle" fill="#5a5a5a" font-weight="normal" text-rendering="geometricPrecision">-0.19</text>
<line x1="161.30" y1="824.50" x2="161.30" y2="827.90" stroke="#333" stroke-width="1.25" />
<text x="161.30" y="837.30" font-size="9.5" text-anchor="middle" fill="#5a5a5a" font-weight="normal" text-rendering="geometricPrecision">-0.18</text>
<line x1="203.80" y1="824.50" x2="203.80" y2="827.90" stroke="#333" stroke-width="1.25" />
<text x="203.80" y="837.30" font-size="9.5" text-anchor="middle" fill="#5a5a5a" font-weight="normal" text-rendering="geometricPrecision">-0.17</text>
<text transform="translate(124.20 852.80) scale(0.96 1)" font-size="12.4" text-anchor="middle" fill="#111" font-weight="normal" stroke="#111" stroke-width="0.25">PC1 (68.5%)</text>
<text x="0.00" y="0.00" font-size="12.4" text-anchor="middle" fill="#111" font-weight="normal" stroke="#111" stroke-width="0.25" transform="translate(8.70,726.40) rotate(-90) scale(0.96 1)">PC2 (5.4%)</text>
<rect x="44.30" y="861.50" width="154.50" height="19.80" fill="none" stroke="#666666" stroke-width="1.2" />
<rect x="44.60" y="866.65" width="57.38" height="9.50" fill="#f3979c" stroke="#7d7d7d" stroke-width="0.75" />
<text x="42.90" y="874.50" font-size="8.6" text-anchor="end" fill="#222" font-weight="normal" >SNR</text>
<text x="107.10" y="874.80" font-size="9.2" text-anchor="start" fill="#333" font-weight="normal" >5.6</text>
<text x="44.30" y="894.30" font-size="7.6" text-anchor="middle" fill="#555" font-weight="bold" >0</text>
<text x="95.80" y="894.30" font-size="7.6" text-anchor="middle" fill="#555" font-weight="bold" >5</text>
<text x="147.30" y="894.30" font-size="7.6" text-anchor="middle" fill="#555" font-weight="bold" >10</text>
<text x="198.80" y="894.30" font-size="7.6" text-anchor="middle" fill="#555" font-weight="bold" >15</text>
<path d="M67.60 648.17L72.25 640.12L62.95 640.12Z" fill="#f07f6e"/>
<path d="M70.00 649.37L74.65 641.32L65.35 641.32Z" fill="#f07f6e"/>
<path d="M72.40 650.77L77.05 642.72L67.75 642.72Z" fill="#f07f6e"/>
<path d="M47.70 708.77L52.35 700.72L43.05 700.72Z" fill="#f3b043"/>
<path d="M57.00 713.97L61.65 705.92L52.35 705.92Z" fill="#f3b043"/>
<path d="M59.70 715.77L64.35 707.72L55.05 707.72Z" fill="#f3b043"/>
<path d="M162.80 701.30L167.60 706.10L162.80 710.90L158.00 706.10Z" fill="#f07f6e"/>
<path d="M171.00 704.00L175.80 708.80L171.00 713.60L166.20 708.80Z" fill="#f07f6e"/>
<path d="M177.20 705.70L182.00 710.50L177.20 715.30L172.40 710.50Z" fill="#f07f6e"/>
<circle cx="155.30" cy="758.80" r="3.29" fill="#f07f6e"/>
<circle cx="176.00" cy="761.30" r="3.29" fill="#f07f6e"/>
<circle cx="190.00" cy="762.00" r="3.29" fill="#f07f6e"/>
<path d="M137.00 763.50L141.80 768.30L137.00 773.10L132.20 768.30Z" fill="#f3b043"/>
<path d="M142.40 763.10L147.20 767.90L142.40 772.70L137.60 767.90Z" fill="#f3b043"/>
<path d="M145.80 764.10L150.60 768.90L145.80 773.70L141.00 768.90Z" fill="#f3b043"/>
<path d="M172.00 770.93L176.65 778.98L167.35 778.98Z" fill="#f07f6e"/>
<path d="M175.00 770.23L179.65 778.28L170.35 778.28Z" fill="#f07f6e"/>
<path d="M181.50 768.73L186.15 776.78L176.85 776.78Z" fill="#f07f6e"/>
<path d="M190.00 770.63L194.65 778.68L185.35 778.68Z" fill="#f07f6e"/>
<path d="M197.60 771.63L202.25 779.68L192.95 779.68Z" fill="#f07f6e"/>
<circle cx="154.50" cy="798.40" r="3.29" fill="#f3b043"/>
<circle cx="159.50" cy="799.60" r="3.29" fill="#f3b043"/>
<circle cx="169.30" cy="799.20" r="3.29" fill="#f3b043"/>
<path d="M165.20 808.73L169.85 816.78L160.55 816.78Z" fill="#f3b043"/>
<path d="M167.50 808.03L172.15 816.08L162.85 816.08Z" fill="#f3b043"/>
<path d="M172.10 812.13L176.75 820.18L167.45 820.18Z" fill="#f3b043"/>
<path d="M175.90 812.63L180.55 820.68L171.25 820.68Z" fill="#f3b043"/>
<path d="M179.70 810.63L184.35 818.68L175.05 818.68Z" fill="#f3b043"/>
<path d="M185.10 809.03L189.75 817.08L180.45 817.08Z" fill="#f3b043"/>
<text transform="translate(236.90 622.50) scale(0.96 1)" font-size="14.5" text-anchor="start" fill="#231f20" font-weight="bold" >h</text>
<text x="357.90" y="622.00" font-size="11.85" text-anchor="middle" fill="#111" font-weight="normal" stroke="#111" stroke-width="0.3">Absolute expressions_after correction</text>
<rect x="273.60" y="633.90" width="165.20" height="191.40" fill="none" stroke="#666666" stroke-width="1.3" />
<line x1="270.00" y1="682.70" x2="273.60" y2="682.70" stroke="#333" stroke-width="1.25" />
<text x="266.60" y="685.65" font-size="9.5" text-anchor="end" fill="#5a5a5a" font-weight="normal" text-rendering="geometricPrecision">0.2</text>
<line x1="270.00" y1="743.10" x2="273.60" y2="743.10" stroke="#333" stroke-width="1.25" />
<text x="266.60" y="746.05" font-size="9.5" text-anchor="end" fill="#5a5a5a" font-weight="normal" text-rendering="geometricPrecision">0.0</text>
<line x1="270.00" y1="803.50" x2="273.60" y2="803.50" stroke="#333" stroke-width="1.25" />
<text x="266.60" y="806.45" font-size="9.5" text-anchor="end" fill="#5a5a5a" font-weight="normal" text-rendering="geometricPrecision">-0.2</text>
<line x1="296.90" y1="825.30" x2="296.90" y2="828.70" stroke="#333" stroke-width="1.25" />
<text x="296.90" y="838.10" font-size="9.5" text-anchor="middle" fill="#5a5a5a" font-weight="normal" text-rendering="geometricPrecision">-0.2</text>
<line x1="324.50" y1="825.30" x2="324.50" y2="828.70" stroke="#333" stroke-width="1.25" />
<text x="324.50" y="838.10" font-size="9.5" text-anchor="middle" fill="#5a5a5a" font-weight="normal" text-rendering="geometricPrecision">-0.1</text>
<line x1="352.10" y1="825.30" x2="352.10" y2="828.70" stroke="#333" stroke-width="1.25" />
<text x="352.10" y="838.10" font-size="9.5" text-anchor="middle" fill="#5a5a5a" font-weight="normal" text-rendering="geometricPrecision">0.0</text>
<line x1="379.90" y1="825.30" x2="379.90" y2="828.70" stroke="#333" stroke-width="1.25" />
<text x="379.90" y="838.10" font-size="9.5" text-anchor="middle" fill="#5a5a5a" font-weight="normal" text-rendering="geometricPrecision">0.1</text>
<line x1="408.20" y1="825.30" x2="408.20" y2="828.70" stroke="#333" stroke-width="1.25" />
<text x="408.20" y="838.10" font-size="9.5" text-anchor="middle" fill="#5a5a5a" font-weight="normal" text-rendering="geometricPrecision">0.2</text>
<line x1="436.10" y1="825.30" x2="436.10" y2="828.70" stroke="#333" stroke-width="1.25" />
<text x="436.10" y="838.10" font-size="9.5" text-anchor="middle" fill="#5a5a5a" font-weight="normal" text-rendering="geometricPrecision">0.3</text>
<text transform="translate(359.60 854.00) scale(0.96 1)" font-size="12.4" text-anchor="middle" fill="#111" font-weight="normal" stroke="#111" stroke-width="0.25">PC1 (23.7%)</text>
<text x="0.00" y="0.00" font-size="12.4" text-anchor="middle" fill="#111" font-weight="normal" stroke="#111" stroke-width="0.25" transform="translate(242.80,732.70) rotate(-90) scale(0.96 1)">PC2 (17.5%)</text>
<rect x="274.70" y="861.70" width="154.40" height="19.90" fill="none" stroke="#666666" stroke-width="1.2" />
<rect x="275.00" y="866.90" width="121.16" height="9.50" fill="#f3979c" stroke="#7d7d7d" stroke-width="0.75" />
<text x="273.30" y="874.75" font-size="8.6" text-anchor="end" fill="#222" font-weight="normal" >SNR</text>
<text x="403.20" y="875.05" font-size="9.2" text-anchor="start" fill="#333" font-weight="normal" >11.8</text>
<text x="274.70" y="894.30" font-size="7.6" text-anchor="middle" fill="#555" font-weight="bold" >0</text>
<text x="326.17" y="894.30" font-size="7.6" text-anchor="middle" fill="#555" font-weight="bold" >5</text>
<text x="377.63" y="894.30" font-size="7.6" text-anchor="middle" fill="#555" font-weight="bold" >10</text>
<text x="429.10" y="894.30" font-size="7.6" text-anchor="middle" fill="#555" font-weight="bold" >15</text>
<circle cx="280.50" cy="694.70" r="3.75" fill="#f07f6e"/>
<circle cx="282.30" cy="702.20" r="3.75" fill="#f07f6e"/>
<path d="M294.00 718.05L298.98 726.67L289.02 726.67Z" fill="#f07f6e"/>
<rect x="302.27" y="798.47" width="7.06" height="7.06" fill="#f07f6e"/>
<rect x="302.77" y="799.87" width="7.06" height="7.06" fill="#f07f6e"/>
<path d="M305.08 812.50H314.92M310.00 807.58V817.42" stroke="#f07f6e" stroke-width="1.2" fill="none"/>
<path d="M305.48 815.00H315.32M310.40 810.08V819.92" stroke="#f07f6e" stroke-width="1.2" fill="none"/>
<path d="M305.88 817.30H315.72M310.80 812.38V822.22" stroke="#f07f6e" stroke-width="1.2" fill="none"/>
<circle cx="383.10" cy="642.40" r="3.75" fill="#f3b043"/>
<circle cx="384.40" cy="646.80" r="3.75" fill="#f3b043"/>
<path d="M393.50 670.55L398.48 679.17L388.52 679.17Z" fill="#f3b043"/>
<rect x="416.87" y="781.97" width="7.06" height="7.06" fill="#f3b043"/>
<rect x="417.07" y="783.47" width="7.06" height="7.06" fill="#f3b043"/>
<path d="M425.28 798.30H435.12M430.20 793.38V803.22" stroke="#f3b043" stroke-width="1.2" fill="none"/>
<path d="M426.08 800.30H435.92M431.00 795.38V805.22" stroke="#f3b043" stroke-width="1.2" fill="none"/>
<path d="M426.78 801.90H436.62M431.70 796.98V806.82" stroke="#f3b043" stroke-width="1.2" fill="none"/>
<circle cx="526.8" cy="654.6" r="4.1" fill="#6092c6"/>
<text x="536.60" y="658.40" font-size="11.0" text-anchor="start" fill="#111" font-weight="normal" >D5</text>
<circle cx="568.0" cy="654.6" r="4.1" fill="#36a85a"/>
<text x="577.70" y="658.40" font-size="11.0" text-anchor="start" fill="#111" font-weight="normal" >D6</text>
<text x="520.60" y="677.40" font-size="10.8" text-anchor="start" fill="#111" font-weight="normal" >Batch_D5_D6</text>
<circle cx="524.8" cy="696.0" r="4.0" fill="none" stroke="#111" stroke-width="1.1"/>
<text transform="translate(531.90 699.60) scale(0.91 1)" font-size="10.2" text-anchor="start" fill="#111" font-weight="normal" >L1_ILL_P</text>
<path d="M585.9000000000001 696.0H596.5M591.2 690.7V701.3" stroke="#111" stroke-width="1.0"/>
<text transform="translate(599.40 699.60) scale(0.91 1)" font-size="10.2" text-anchor="start" fill="#111" font-weight="normal" >L2_DNB_P</text>
<path d="M524.8 711.45L530.05 720.45L519.55 720.45Z" fill="none" stroke="#111" stroke-width="1.1"/>
<text transform="translate(531.90 720.00) scale(0.91 1)" font-size="10.2" text-anchor="start" fill="#111" font-weight="normal" >L1_ILL_R</text>
<path d="M587.4000000000001 712.6L595.0 720.1999999999999M587.4000000000001 720.1999999999999L595.0 712.6" stroke="#111" stroke-width="1.0"/>
<text transform="translate(599.40 720.00) scale(0.91 1)" font-size="10.2" text-anchor="start" fill="#111" font-weight="normal" >L2_DNB_R</text>
<path d="M524.8 731.5L530.3 737.0L524.8 742.5L519.3 737.0Z" fill="none" stroke="#111" stroke-width="1.1"/>
<text transform="translate(532.90 740.60) scale(0.91 1)" font-size="10.2" text-anchor="start" fill="#111" font-weight="normal" >L3_ILL_P</text>
<path d="M587.4000000000001 733.2h7.6v7.6h-7.6ZM587.4000000000001 733.2L595.0 740.8M587.4000000000001 740.8L595.0 733.2" fill="none" stroke="#111" stroke-width="1.1"/>
<text transform="translate(599.40 740.60) scale(0.91 1)" font-size="10.2" text-anchor="start" fill="#111" font-weight="normal" >L3_DNB_P</text>
<path d="M524.8 762.55L530.05 753.55L519.55 753.55Z" fill="none" stroke="#111" stroke-width="1.1"/>
<text transform="translate(532.90 761.20) scale(0.91 1)" font-size="10.2" text-anchor="start" fill="#111" font-weight="normal" >L3_ILL_R</text>
<path d="M585.7 757.6H596.7M591.2 752.1V763.1M587.3000000000001 753.7L595.1 761.5M587.3000000000001 761.5L595.1 753.7" stroke="#111" stroke-width="1.0"/>
<text transform="translate(599.40 761.20) scale(0.91 1)" font-size="10.2" text-anchor="start" fill="#111" font-weight="normal" >L3_DNB_R</text>
<circle cx="523.0" cy="805.5" r="4.1" fill="#f07f6e"/>
<text x="532.60" y="809.40" font-size="11.0" text-anchor="start" fill="#111" font-weight="normal" >LCA</text>
<circle cx="567.8" cy="805.5" r="4.1" fill="#f3b043"/>
<text x="577.60" y="809.40" font-size="11.0" text-anchor="start" fill="#111" font-weight="normal" >LCN</text>
<text x="520.60" y="830.10" font-size="10.8" text-anchor="start" fill="#111" font-weight="normal" >Batch_LCA_LCN</text>
<circle cx="525.5" cy="847.8" r="4.0" fill="none" stroke="#111" stroke-width="1.1"/>
<text transform="translate(533.20 851.20) scale(0.91 1)" font-size="10.2" text-anchor="start" fill="#111" font-weight="normal" >L1_ILL_P</text>
<rect x="589.6" y="844.7" width="7.8" height="7.8" fill="none" stroke="#111" stroke-width="1.1"/>
<text transform="translate(601.90 851.20) scale(0.91 1)" font-size="10.2" text-anchor="start" fill="#111" font-weight="normal" >L2_ILL_R</text>
<path d="M525.5 863.85L530.75 872.85L520.25 872.85Z" fill="none" stroke="#111" stroke-width="1.1"/>
<text transform="translate(533.20 872.60) scale(0.91 1)" font-size="10.2" text-anchor="start" fill="#111" font-weight="normal" >L2_ILL_P</text>
<path d="M588.2 868.7H598.8M593.5 863.4000000000001V874.0" stroke="#111" stroke-width="1.0"/>
<text transform="translate(601.90 872.60) scale(0.91 1)" font-size="10.2" text-anchor="start" fill="#111" font-weight="normal" >L3_DNB_R</text>
</svg></body></html>
